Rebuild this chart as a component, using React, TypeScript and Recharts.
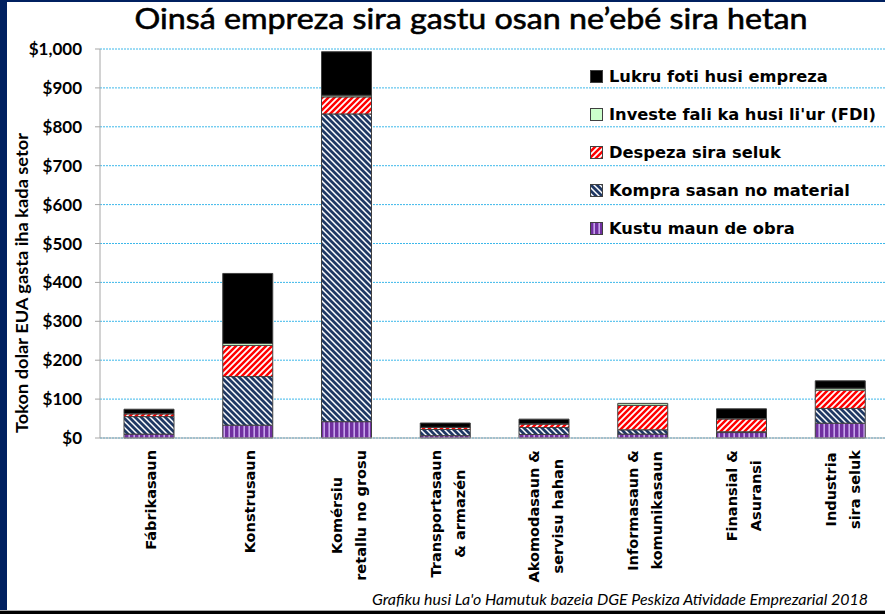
import { Bar, BarChart, CartesianGrid, XAxis, YAxis } from "recharts";

const sectors = [
  "Fábrikasaun",
  "Konstrusaun",
  "Komérsiu\nretallu no grosu",
  "Transportasaun\n& armazén",
  "Akomodasaun &\nservisu hahan",
  "Informasaun &\nkomunikasaun",
  "Finansial &\nAsuransi",
  "Industria\nsira seluk",
];

// millions of US$
const labor = [10, 33, 42, 6, 9, 10, 14, 38];
const materials = [45, 125, 791, 16, 18, 11, 2, 38];
const otherCosts = [7, 80, 44, 5, 9, 63, 33, 47];
const fdi = [1, 5, 4, 0.5, 0.5, 5, 1, 5];
const profit = [11, 180, 112, 11, 12, 0, 25, 19];

const yTicks = [0, 100, 200, 300, 400, 500, 600, 700, 800, 900, 1000];
const edgeTicks = [0, 1, 2, 3, 4, 5, 6, 7, 8];

const series = [
  { key: "labor", name: "Kustu maun de obra", fill: "url(#pat-labor)" },
  { key: "materials", name: "Kompra sasan no material", fill: "url(#pat-materials)" },
  { key: "other", name: "Despeza sira seluk", fill: "url(#pat-other)" },
  { key: "fdi", name: "Investe fali ka husi li'ur (FDI)", fill: "#CCFFCC" },
  { key: "profit", name: "Lukru foti husi empreza", fill: "#000000" },
];

const data = sectors.map((sector, i) => ({
  sector,
  labor: labor[i],
  materials: materials[i],
  other: otherCosts[i],
  fdi: fdi[i],
  profit: profit[i],
}));

const labelFont = "DejaVu Sans";
const labelSize = 14.5;
let ctx: CanvasRenderingContext2D | null = null;
function textWidth(s: string, font: string) {
  if (!ctx) ctx = document.createElement("canvas").getContext("2d");
  if (!ctx) return s.length * 9;
  ctx.font = font;
  return ctx.measureText(s).width;
}

function CategoryTick(props: any) {
  const { x, y, payload } = props;
  const lines = String(payload.value).split("\n");
  const w = Math.max(...lines.map((l) => textWidth(l, `bold ${labelSize}px "${labelFont}"`)));
  const mid = y + 12 + w / 2;
  return (
    <g transform={`translate(${x},${mid})`}>
      <text
        transform="rotate(-90)"
        textAnchor="middle"
        fontFamily={labelFont}
        fontWeight="bold"
        fontSize={labelSize}
        fill="#000"
      >
        {lines.map((l, i) => (
          <tspan key={i} x={0} y={(i - (lines.length - 1) / 2) * 24 + 7}>
            {l}
          </tspan>
        ))}
      </text>
    </g>
  );
}

const money = (v: number) => "$" + v.toLocaleString("en-US");

export default function App() {
  return (
    <div
      style={{
        position: "absolute",
        left: 0,
        top: 0,
        width: 885,
        height: 614,
        overflow: "hidden",
        background: "#fff",
        fontFamily: "Lato, sans-serif",
      }}
    >
      <BarChart
        width={890}
        height={614}
        data={data}
        margin={{ top: 49, right: 0, bottom: 0, left: 0 }}
        barSize={50}
      >
        <defs>
          <pattern id="pat-labor" width="5" height="5" patternUnits="userSpaceOnUse">
            <rect width="5" height="5" fill="#7030A0" />
            <rect x="3.4" width="1.6" height="5" fill="#C8A6EC" />
          </pattern>
          <pattern id="pat-materials" width="6" height="6" patternUnits="userSpaceOnUse">
            <rect width="6" height="6" fill="#fff" />
            <path d="M-1,-1 L7,7 M-1,5 L1,7 M5,-1 L7,1" stroke="#1F3864" strokeWidth="2.8" />
          </pattern>
          <pattern id="pat-other" width="6" height="6" patternUnits="userSpaceOnUse">
            <rect width="6" height="6" fill="#fff" />
            <path d="M-1,7 L7,-1 M-1,1 L1,-1 M5,7 L7,5" stroke="#FF0000" strokeWidth="2.5" />
          </pattern>
        </defs>
        <CartesianGrid vertical={false} stroke="#3DB8EA" strokeDasharray="2 1" />
        <XAxis
          xAxisId="edges"
          type="number"
          domain={[0, 8]}
          ticks={edgeTicks}
          height={0}
          tick={false}
          tickSize={7}
          axisLine={false}
          tickLine={{ stroke: "#A6A6A6" }}
          allowDataOverflow
        />
        <XAxis
          dataKey="sector"
          interval={0}
          height={176}
          tickSize={0}
          tickMargin={0}
          tickLine={false}
          axisLine={{ stroke: "#A6A6A6" }}
          tick={<CategoryTick />}
        />
        <YAxis
          width={100}
          domain={[0, 1000]}
          ticks={yTicks}
          tickFormatter={money}
          tickSize={5}
          tickMargin={13}
          axisLine={{ stroke: "#A6A6A6" }}
          tickLine={{ stroke: "#A6A6A6" }}
          tick={{ fill: "#000", fontSize: 17, fontWeight: "bold", fontFamily: "Lato" }}
        />
        {series.map((s) => (
          <Bar
            key={s.key}
            dataKey={s.key}
            name={s.name}
            stackId="a"
            fill={s.fill}
            stroke="#404040"
            strokeWidth={1}
            isAnimationActive={false}
          />
        ))}
      </BarChart>

      {/* title, y axis title and source line */}
      <svg style={{ position: "absolute", left: 0, top: 0 }} width={885} height={614}>
        <text
          x={471}
          y={29}
          textAnchor="middle"
          fontFamily="Lato"
          fontSize={29}
          textLength={673}
          lengthAdjust="spacingAndGlyphs"
          fill="#000"
          stroke="#000"
          strokeWidth={0.6}
        >
          Oinsá empreza sira gastu osan ne’ebé sira hetan
        </text>
        <text
          transform="translate(28,283) rotate(-90)"
          textAnchor="middle"
          fontFamily="Lato"
          fontWeight="bold"
          fontSize={17}
          textLength={300}
          lengthAdjust="spacingAndGlyphs"
          fill="#000"
        >
          Tokon dolar EUA gasta iha kada setor
        </text>
        <text
          x={868}
          y={605}
          textAnchor="end"
          fontFamily="Lato"
          fontStyle="italic"
          fontSize={15}
          textLength={496}
          lengthAdjust="spacingAndGlyphs"
          fill="#000"
        >
          Grafiku husi La'o Hamutuk bazeia DGE Peskiza Atividade Emprezarial 2018
        </text>
      </svg>

      {/* legend */}
      <div style={{ position: "absolute", left: 590, top: 58 }}>
        {[...series].reverse().map((s) => (
          <div
            key={s.key}
            style={{ display: "flex", alignItems: "center", height: 37.8, whiteSpace: "nowrap" }}
          >
            <svg width={13} height={13} style={{ marginRight: 6 }}>
              <rect x={0.5} y={0.5} width={12} height={12} fill={s.fill} stroke="#404040" />
            </svg>
            <span style={{ fontFamily: labelFont, fontWeight: "bold", fontSize: 16.3, color: "#000" }}>
              {s.name}
            </span>
          </div>
        ))}
      </div>

      {/* slide frame */}
      <div style={{ position: "absolute", left: 0, top: 0, width: 7, height: 614, background: "#002060" }} />
      <div style={{ position: "absolute", left: 0, top: 0, width: 885, height: 2, background: "#002060" }} />
      <div style={{ position: "absolute", left: 0, top: 610, width: 885, height: 1, background: "#A6A6A6" }} />
      <div style={{ position: "absolute", left: 0, top: 611, width: 885, height: 3, background: "#000" }} />
    </div>
  );
}
